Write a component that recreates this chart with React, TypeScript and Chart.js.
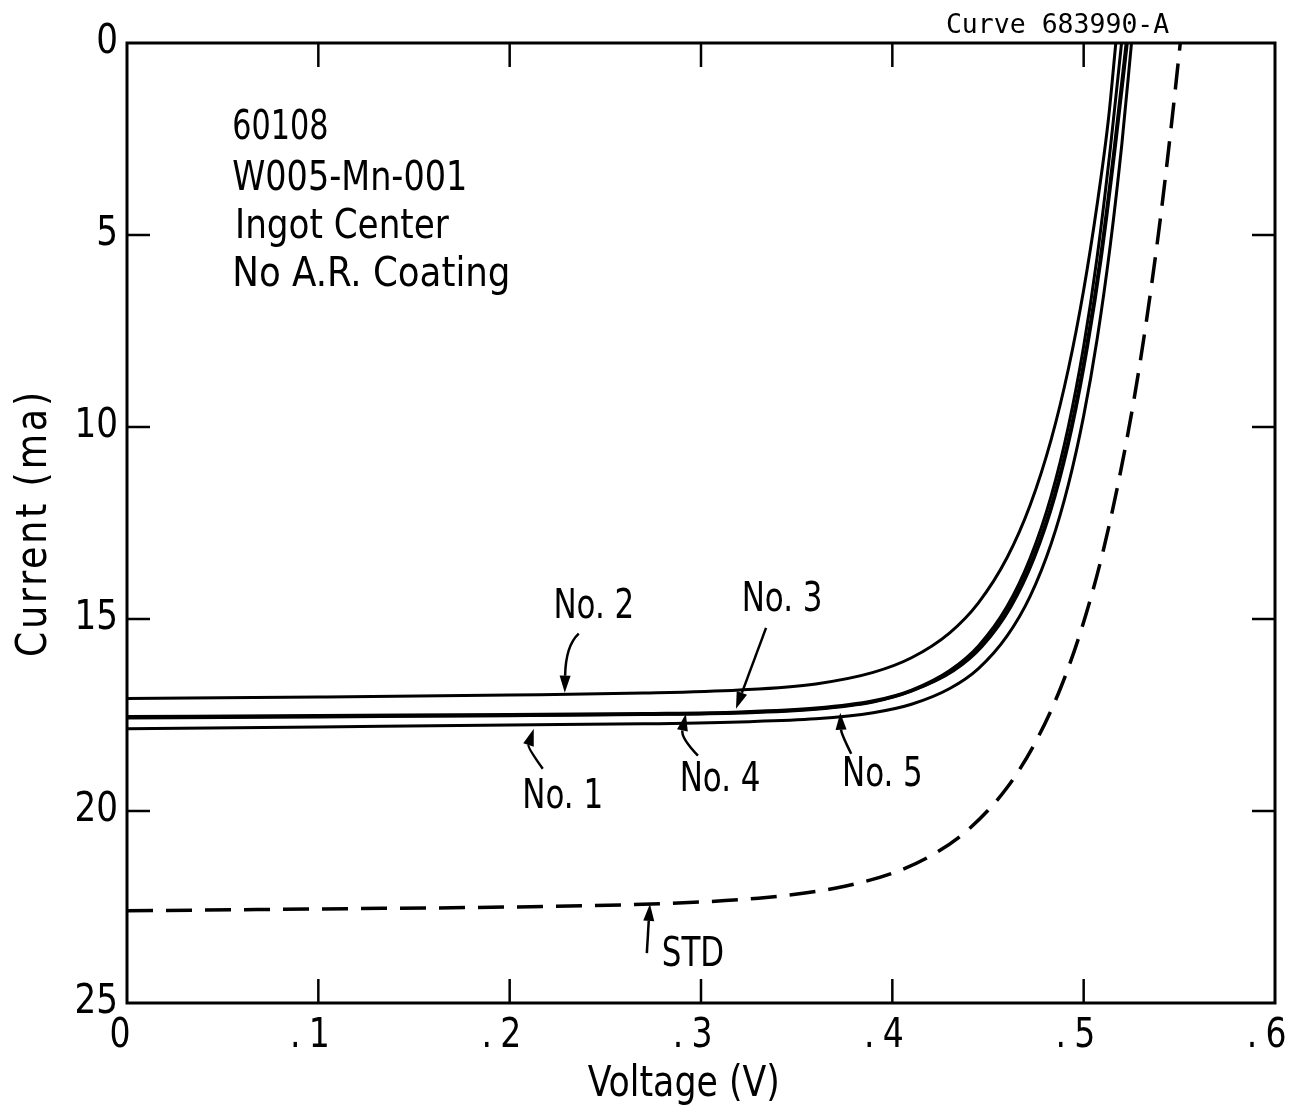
import React, { useEffect, useRef } from 'react';
import { Chart, registerables } from 'chart.js';

Chart.register(...registerables);

const SANS = '"Liberation Sans Narrow", "DejaVu Sans Condensed", "Arial Narrow", sans-serif';
const MONO = '"DejaVu Sans Mono", "Liberation Mono", monospace';

// Axis ticks
const voltageTicks = [0, 0.1, 0.2, 0.3, 0.4, 0.5, 0.6];
const currentTicks = [0, 5, 10, 15, 20, 25];

// I-V curves: voltage (V) and current (mA)
const no2Voltage = [0, 0.1, 0.2, 0.27, 0.32, 0.36, 0.39, 0.41, 0.43, 0.445, 0.46, 0.472, 0.483, 0.492, 0.5, 0.507, 0.513, 0.5168];
const no2Current = [17.07, 17.03, 16.98, 16.93, 16.85, 16.69, 16.39, 16.01, 15.36, 14.58, 13.4, 12.04, 10.33, 8.49, 6.43, 4.22, 1.96, 0];

const no3Voltage = [0, 0.1, 0.2, 0.27, 0.32, 0.36, 0.39, 0.41, 0.43, 0.445, 0.46, 0.472, 0.483, 0.492, 0.5, 0.507, 0.514, 0.5198];
const no3Current = [17.54, 17.51, 17.49, 17.46, 17.42, 17.32, 17.13, 16.85, 16.34, 15.7, 14.67, 13.42, 11.8, 9.99, 7.9, 5.59, 2.72, 0];

const no4Voltage = [0, 0.1, 0.2, 0.27, 0.32, 0.36, 0.39, 0.41, 0.4315, 0.4465, 0.4615, 0.4735, 0.4845, 0.4935, 0.5015, 0.5087, 0.516, 0.5222];
const no4Current = [17.56, 17.53, 17.51, 17.48, 17.44, 17.34, 17.15, 16.87, 16.34, 15.7, 14.67, 13.42, 11.8, 9.99, 7.9, 5.59, 2.72, 0];

const no5Voltage = [0, 0.1, 0.2, 0.27, 0.32, 0.36, 0.39, 0.41, 0.432, 0.447, 0.462, 0.474, 0.485, 0.494, 0.502, 0.5092, 0.5165, 0.5228];
const no5Current = [17.58, 17.55, 17.52, 17.49, 17.45, 17.35, 17.16, 16.88, 16.35, 15.71, 14.68, 13.43, 11.81, 10.0, 7.91, 5.6, 2.73, 0];

const no1Voltage = [0, 0.1, 0.2, 0.27, 0.32, 0.36, 0.39, 0.41, 0.43, 0.445, 0.46, 0.472, 0.483, 0.492, 0.5, 0.507, 0.514, 0.52, 0.525];
const no1Current = [17.86, 17.81, 17.76, 17.73, 17.68, 17.6, 17.44, 17.22, 16.81, 16.29, 15.44, 14.41, 13.04, 11.5, 9.71, 7.72, 5.23, 2.61, 0];

const stdVoltage = [0, 0.1, 0.2, 0.28, 0.33, 0.37, 0.4, 0.42, 0.44, 0.46, 0.475, 0.488, 0.499, 0.509, 0.518, 0.526, 0.533, 0.54, 0.546, 0.5505];
const stdCurrent = [22.6, 22.55, 22.5, 22.41, 22.27, 22.01, 21.62, 21.17, 20.47, 19.39, 18.19, 16.79, 15.24, 13.47, 11.48, 9.37, 7.17, 4.61, 2.07, 0];

// Header lines
const headerLines = ['60108', 'W005-Mn-001', 'Ingot Center', 'No A.R. Coating'];
const curveId = 'Curve 683990-A';

// Curve call-outs: label text, label anchor and arrow (tail, bend, tip) in data units
const calloutText = ['No. 1', 'No. 2', 'No. 3', 'No. 4', 'No. 5', 'STD'];
const calloutLabelV = [0.2277, 0.244, 0.3424, 0.31, 0.3948, 0.2958];
const calloutLabelI = [19.66, 14.7, 14.52, 19.21, 19.08, 23.77];
const arrowTailV = [0.2173, 0.2361, 0.334, 0.2984, 0.3785, 0.2717];
const arrowTailI = [18.9, 15.38, 15.23, 18.56, 18.51, 23.7];
const arrowBendV = [0.2094, 0.2293, 0.3262, 0.2895, 0.3733, 0.2725];
const arrowBendI = [18.35, 15.69, 16.27, 18.09, 17.99, 23.0];
const arrowTipV = [0.2126, 0.2288, 0.3183, 0.2921, 0.3728, 0.2733];
const arrowTipI = [17.86, 16.92, 17.34, 17.47, 17.44, 22.42];

const pts = (v: number[], c: number[]) => v.map((x, i) => ({ x, y: c[i] }));

const solid = (label: string, v: number[], c: number[]) => ({
  label,
  data: pts(v, c),
  showLine: true,
  borderColor: '#000',
  backgroundColor: '#000',
  borderWidth: 3,
  pointRadius: 0,
  cubicInterpolationMode: 'monotone' as const,
});

// condensed text: draws with a horizontal squeeze around the anchor
function squeezed(
  ctx: CanvasRenderingContext2D,
  text: string,
  x: number,
  y: number,
  sx: number,
  align: CanvasTextAlign,
) {
  ctx.save();
  ctx.translate(x, y);
  ctx.scale(sx, 1);
  ctx.textAlign = align;
  ctx.fillText(text, 0, 0);
  ctx.restore();
}

const framePlugin = {
  id: 'frameAndNotes',
  afterDraw(chart: any) {
    const { ctx, chartArea: a, scales } = chart;
    const xs = scales.x;
    const ys = scales.y;
    const px = (v: number) => xs.getPixelForValue(v);
    const py = (c: number) => ys.getPixelForValue(c);
    ctx.save();
    ctx.strokeStyle = '#000';
    ctx.fillStyle = '#000';
    ctx.lineCap = 'butt';

    // frame
    ctx.lineWidth = 3;
    ctx.strokeRect(a.left, a.top, a.right - a.left, a.bottom - a.top);

    // inward tick marks on all four sides
    ctx.lineWidth = 2.5;
    const seg = (x1: number, y1: number, x2: number, y2: number) => {
      ctx.beginPath();
      ctx.moveTo(x1, y1);
      ctx.lineTo(x2, y2);
      ctx.stroke();
    };
    voltageTicks.slice(1, -1).forEach((v) => {
      const x = px(v);
      seg(x, a.bottom, x, a.bottom - 24);
      seg(x, a.top, x, a.top + 24);
    });
    currentTicks.slice(1, -1).forEach((c) => {
      const y = py(c);
      seg(a.left, y, a.left + 23, y);
      seg(a.right, y, a.right - 23, y);
    });

    // tick labels
    ctx.font = `40px ${SANS}`;
    ctx.textBaseline = 'middle';
    voltageTicks.forEach((v) => {
      const x = px(v);
      const d = Math.round(v * 10);
      if (d === 0) {
        squeezed(ctx, '0', x - 7, a.bottom + 34, 0.92, 'center');
      } else {
        squeezed(ctx, String(d), x + 1, a.bottom + 34, 0.92, 'center');
        squeezed(ctx, '.', x - 23, a.bottom + 34, 0.92, 'center');
      }
    });
    currentTicks.forEach((c) => {
      squeezed(ctx, String(c), a.left - 9, py(c), 0.95, 'right');
    });

    // header block
    ctx.font = `40px ${SANS}`;
    const headerI = [2.22, 3.57, 4.82, 6.07];
    const headerSqueeze = [0.84, 0.93, 0.95, 0.99];
    headerLines.forEach((t, i) => {
      squeezed(ctx, t, px(i === 2 ? 0.0565 : 0.055), py(headerI[i]), headerSqueeze[i], 'left');
    });

    ctx.font = `26.5px ${MONO}`;
    squeezed(ctx, curveId, px(0.428), a.top - 17, 1, 'left');

    // call-outs
    ctx.font = `40px ${SANS}`;
    calloutText.forEach((t, i) => {
      squeezed(ctx, t, px(calloutLabelV[i]), py(calloutLabelI[i]), 0.86, 'center');
      const tx = px(arrowTailV[i]);
      const ty = py(arrowTailI[i]);
      const bx = px(arrowBendV[i]);
      const by = py(arrowBendI[i]);
      const hx = px(arrowTipV[i]);
      const hy = py(arrowTipI[i]);
      const ang = Math.atan2(hy - by, hx - bx);
      const len = 17;
      const half = 5.5;
      const baseX = hx - Math.cos(ang) * len;
      const baseY = hy - Math.sin(ang) * len;
      ctx.lineWidth = 2.5;
      ctx.beginPath();
      ctx.moveTo(tx, ty);
      ctx.quadraticCurveTo(bx, by, baseX, baseY);
      ctx.stroke();
      ctx.beginPath();
      ctx.moveTo(hx, hy);
      ctx.lineTo(baseX + Math.sin(ang) * half, baseY - Math.cos(ang) * half);
      ctx.lineTo(baseX - Math.sin(ang) * half, baseY + Math.cos(ang) * half);
      ctx.closePath();
      ctx.fill();
    });

    // axis titles
    ctx.font = `42px ${SANS}`;
    squeezed(ctx, 'Voltage (V)', px(0.291), a.bottom + 82, 0.92, 'center');
    ctx.save();
    ctx.translate(35, (a.top + a.bottom) / 2);
    ctx.rotate(-Math.PI / 2);
    (ctx as any).letterSpacing = '3px';
    squeezed(ctx, 'Current (ma)', 0, 0, 0.96, 'center');
    ctx.restore();
    ctx.restore();
  },
};

export default function App() {
  const ref = useRef<HTMLCanvasElement>(null);

  useEffect(() => {
    if (!ref.current) return;
    const chart = new Chart(ref.current, {
      type: 'scatter',
      data: {
        datasets: [
          {
            label: 'STD',
            data: pts(stdVoltage, stdCurrent),
            showLine: true,
            borderColor: '#000',
            backgroundColor: '#000',
            borderWidth: 3.5,
            borderDash: [26, 13],
            pointRadius: 0,
            cubicInterpolationMode: 'monotone',
          },
          solid('No. 1', no1Voltage, no1Current),
          solid('No. 5', no5Voltage, no5Current),
          solid('No. 4', no4Voltage, no4Current),
          solid('No. 3', no3Voltage, no3Current),
          solid('No. 2', no2Voltage, no2Current),
        ],
      },
      options: {
        responsive: false,
        animation: false,
        devicePixelRatio: 1,
        layout: { padding: { top: 43, right: 25, left: 0, bottom: 0 } },
        plugins: { legend: { display: false }, tooltip: { enabled: false } },
        scales: {
          x: {
            type: 'linear',
            min: 0,
            max: 0.6,
            afterBuildTicks: (s: any) => {
              s.ticks = voltageTicks.map((value) => ({ value }));
            },
            afterFit: (s: any) => {
              s.height = 112;
            },
            ticks: { display: false },
            grid: { display: false, drawTicks: false },
            border: { display: false },
          },
          y: {
            type: 'linear',
            min: 0,
            max: 25,
            reverse: true,
            afterBuildTicks: (s: any) => {
              s.ticks = currentTicks.map((value) => ({ value }));
            },
            afterFit: (s: any) => {
              s.width = 127;
            },
            ticks: { display: false },
            grid: { display: false, drawTicks: false },
            border: { display: false },
          },
        },
      },
      plugins: [framePlugin],
    });
    return () => chart.destroy();
  }, []);

  return (
    <div style={{ position: 'absolute', left: 0, top: 0, width: 1300, height: 1115, background: '#fff' }}>
      <canvas ref={ref} width={1300} height={1115} style={{ display: 'block', width: 1300, height: 1115 }} />
    </div>
  );
}
